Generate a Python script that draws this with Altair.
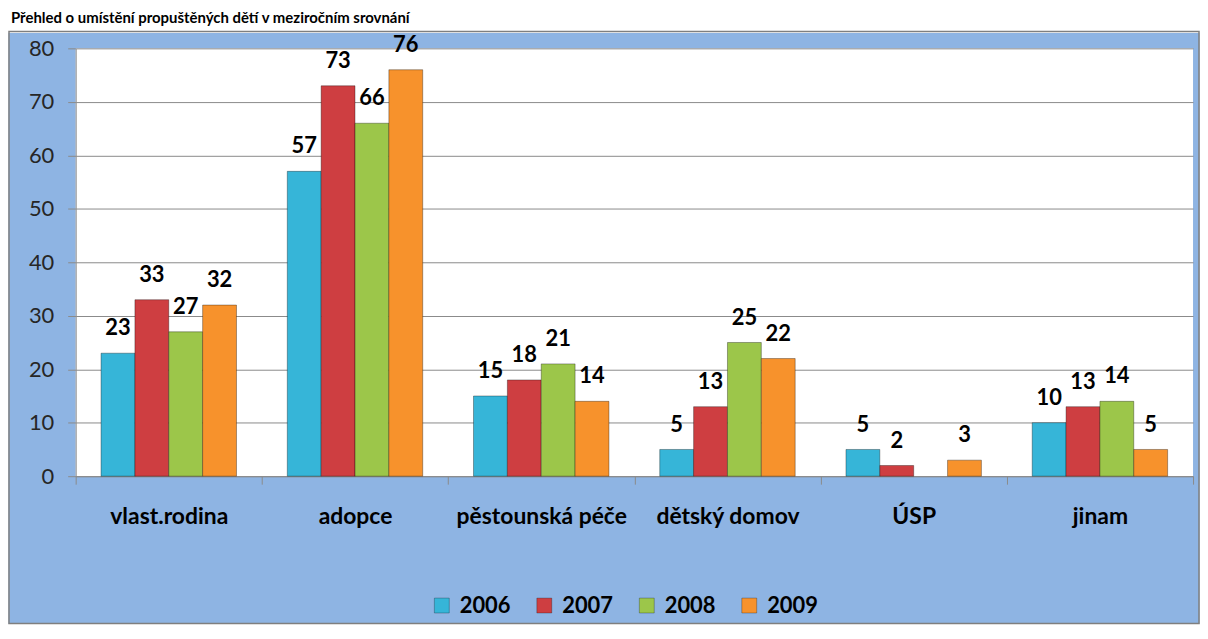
import altair as alt
import pandas as pd

title_text = "Přehled o umístění propuštěných dětí v meziročním srovnání"
categories = ["vlast.rodina", "adopce", "pěstounská péče", "dětský domov", "ÚSP", "jinam"]
years = ["2006", "2007", "2008", "2009"]
v2006 = [23, 57, 15, 5, 5, 10]
v2007 = [33, 73, 18, 13, 2, 13]
v2008 = [27, 66, 21, 25, None, 14]
v2009 = [32, 76, 14, 22, 3, 5]
colors = ["#36B5D8", "#CE3E41", "#9CC64A", "#F7922C"]
y_ticks = [0, 10, 20, 30, 40, 50, 60, 70, 80]

rows = []
for yr, vals in zip(years, [v2006, v2007, v2008, v2009]):
    for c, v in zip(categories, vals):
        rows.append({"kategorie": c, "rok": yr, "hodnota": v})
df = pd.DataFrame(rows)

FONT = "Lato"
W, H = 1123, 430
PAD_L, PAD_T, PAD_R, PAD_B = 68, 39, 7, 149
BOX_TOP = -17

one = pd.DataFrame({"_": [0]})

# white strip above the blue box (title area)
strip = alt.Chart(one).mark_rect(fill="white").encode(
    x=alt.value(-PAD_L - 2), x2=alt.value(W + PAD_R + 2),
    y=alt.value(-PAD_T - 2), y2=alt.value(BOX_TOP)
)
# white frame outside the border on the left, right and bottom
frame = alt.Chart(one).mark_rect(fill="transparent", stroke="white", strokeWidth=3).encode(
    x=alt.value(-PAD_L - 1), x2=alt.value(W + PAD_R + 1),
    y=alt.value(BOX_TOP), y2=alt.value(H + PAD_B + 1),
)
border = alt.Chart(one).mark_rect(fill="transparent", stroke="#7f7f7f", strokeWidth=1.5).encode(
    x=alt.value(-PAD_L + 1), x2=alt.value(W + PAD_R - 1),
    y=alt.value(BOX_TOP), y2=alt.value(H + PAD_B - 1),
)
title = alt.Chart(one).mark_text(
    text=title_text, font=FONT, fontSize=15, fontWeight="bold", color="black",
    align="left", baseline="top"
).encode(x=alt.value(-65), y=alt.value(-37))

x_enc = alt.X(
    "kategorie:N", sort=categories,
    scale=alt.Scale(paddingInner=0, paddingOuter=0),
    axis=alt.Axis(
        title=None, labelAngle=0, labelFont=FONT, labelFontSize=23, labelFontWeight="bold",
        labelColor="black", tickBand="extent", tickSize=8, tickColor="#8a8a8a",
        domainColor="#8a8a8a", labelPadding=22, grid=False, labelLimit=400,
    ),
)
xo_enc = alt.XOffset("rok:N", sort=years, scale=alt.Scale(paddingInner=0, paddingOuter=0.75))
y_enc = alt.Y(
    "hodnota:Q", scale=alt.Scale(domain=[0, 80], nice=False),
    axis=alt.Axis(
        title=None, values=y_ticks, grid=True, gridColor="#8a8a8a", domainColor="#8a8a8a",
        tickColor="#8a8a8a", tickSize=8, labelFont=FONT, labelFontSize=22,
        labelColor="#262626", labelPadding=14,
    ),
)
color_enc = alt.Color(
    "rok:N", sort=years, scale=alt.Scale(domain=years, range=colors),
    legend=alt.Legend(
        orient="none", legendX=357, legendY=549, direction="horizontal", title=None,
        symbolType="square", symbolSize=225, symbolStrokeWidth=0.8, labelFont=FONT,
        labelFontSize=22, labelFontWeight="bold", labelColor="black", labelOffset=7,
        columnPadding=22, padding=0,
    ),
)

bars = alt.Chart(df).mark_bar(stroke="#00000055", strokeWidth=1).encode(
    x=x_enc, xOffset=xo_enc, y=y_enc, color=color_enc
)
labels = alt.Chart(df).transform_filter("datum.hodnota != null").mark_text(
    font=FONT, fontSize=22, fontWeight="bold", color="black", baseline="alphabetic", dy=-18
).encode(x=x_enc, xOffset=xo_enc, y=y_enc, text=alt.Text("hodnota:Q", format="d"))

chart = alt.layer(strip, frame, border, title, bars, labels).properties(
    width=W, height=H,
    padding={"left": PAD_L, "top": PAD_T, "right": PAD_R, "bottom": PAD_B},
    autosize=alt.AutoSizeParams(type="none"),
    background="#8EB4E3",
).configure_view(stroke=None, fill="white")

chart.save("out.html", embed_options={"renderer": "svg", "actions": False})
